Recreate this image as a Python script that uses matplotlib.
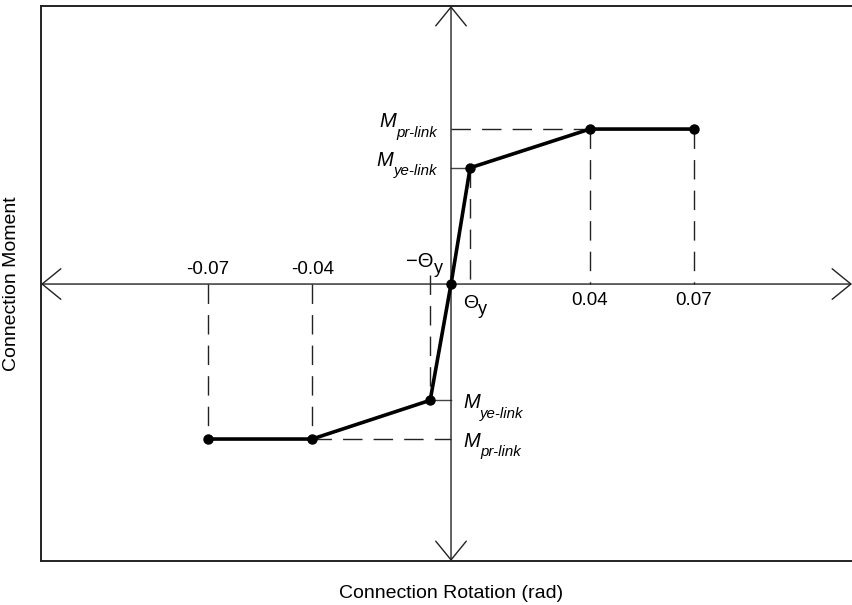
import matplotlib
matplotlib.use("Agg")
import matplotlib.pyplot as plt

plt.rcParams['font.family'] = ['Liberation Sans', 'DejaVu Sans']

# ---- data ----
curve_rotation = [-0.07, -0.04, -0.006, 0.0, 0.0055, 0.04, 0.07]
curve_moment = [-1.0, -1.0, -0.75, 0.0, 0.75, 1.0, 1.0]
tick_values = [-0.07, -0.04, 0.04, 0.07]
tick_labels = ['-0.07', '-0.04', '0.04', '0.07']
theta_neg = -0.006
theta_pos = 0.0055
m_pr = 1.0
m_ye = 0.75
x_range = (-0.1181, 0.1155)
y_range = (-1.787, 1.794)

W, H = 852, 605
fig = plt.figure(figsize=(W / 100, H / 100), dpi=100)
ax = fig.add_axes([41 / W, 1 - 561 / H, 1 - 41 / W, (561 - 6) / H])
ax.set_xlim(*x_range)
ax.set_ylim(*y_range)
ax.set_xticks([])
ax.set_yticks([])
for s in ['left', 'top', 'bottom']:
    ax.spines[s].set_linewidth(1.4)
    ax.spines[s].set_color('#222222')
ax.spines['right'].set_visible(False)

# central axes with open arrow heads
arrow_style = '<->,head_length=13.5,head_width=11'
ax.annotate('', xy=(x_range[1], 0), xytext=(x_range[0], 0),
            arrowprops=dict(arrowstyle=arrow_style, lw=1.0, color='#222222',
                            shrinkA=0, shrinkB=0, mutation_scale=1),
            annotation_clip=False)
ax.annotate('', xy=(0, y_range[1]), xytext=(0, y_range[0]),
            arrowprops=dict(arrowstyle=arrow_style, lw=1.0, color='#222222',
                            shrinkA=0, shrinkB=0, mutation_scale=1),
            annotation_clip=False)

dash = dict(color='#222222', lw=1.0, linestyle=(0, (14, 8)), zorder=2)
thin = dict(color='#444444', lw=1.0, zorder=2)

# dashed guide lines
r_n2, r_n1 = curve_rotation[0], curve_rotation[1]
r_p1, r_p2 = curve_rotation[5], curve_rotation[6]
for r in (r_n2, r_n1):
    ax.plot([r, r], [0, -m_pr], **dash)
for r in (r_p1, r_p2):
    ax.plot([r, r], [m_pr, 0], **dash)
ax.plot([theta_neg, theta_neg], [0.06, -m_ye], **dash)
ax.plot([theta_pos, theta_pos], [m_ye, 0], **dash)
ax.plot([0, r_p1], [m_pr, m_pr], **dash)
ax.plot([r_n1, 0], [-m_pr, -m_pr], **dash)
ax.plot([0, theta_pos], [m_ye, m_ye], **thin)
ax.plot([theta_neg, 0], [-m_ye, -m_ye], **thin)

# the curve
ax.plot(curve_rotation, curve_moment, color='black', lw=2.6, marker='o',
        markersize=6.5, zorder=5, solid_joinstyle='round')

fs = 13.5
# tick labels
for v, lab in zip(tick_values, tick_labels):
    if v < 0:
        ax.annotate(lab, (v, 0), xytext=(0, 7.5), textcoords='offset points',
                    ha='center', va='baseline', fontsize=fs)
    else:
        ax.annotate(lab, (v, 0), xytext=(0, -15), textcoords='offset points',
                    ha='center', va='baseline', fontsize=fs)

renderer = fig.canvas.get_renderer()


def width_pt(s, size, style):
    t = fig.text(0, 0, s, fontsize=size, style=style)
    w = t.get_window_extent(renderer).width * 72 / fig.dpi
    t.remove()
    return w


def compose(x, y, parts, dx, dy, ha):
    widths = [width_pt(s, size, st) for s, size, st, _ in parts]
    cursor = dx if ha == 'left' else dx - sum(widths)
    for (s, size, st, drop), w in zip(parts, widths):
        ax.annotate(s, (x, y), xytext=(cursor, dy - drop),
                    textcoords='offset points', ha='left', va='baseline',
                    fontsize=size, style=st)
        cursor += w


compose(0, 0, [('\u2212\u0398', 14.5, 'normal', 0), ('y', 13, 'normal', 4)],
        -6, 12, 'right')
compose(0, 0, [('\u0398', 14, 'normal', 0), ('y', 13, 'normal', 4)],
        8.5, -17.5, 'left')

ml, sl = 14.5, 10.8
compose(0, m_pr, [('M', ml, 'italic', 0), ('pr-link', sl, 'italic', 7)],
        -10, 1.5, 'right')
compose(0, m_ye, [('M', ml, 'italic', 0), ('ye-link', sl, 'italic', 7)],
        -10, 1.5, 'right')
compose(0, -m_ye, [('M', ml, 'italic', 0), ('ye-link', sl, 'italic', 7)],
        9, -5.5, 'left')
compose(0, -m_pr, [('M', ml, 'italic', 0), ('pr-link', sl, 'italic', 7)],
        9, -5.5, 'left')

fig.text(451 / W, 1 - 593 / H, 'Connection Rotation (rad)', ha='center',
         va='center', fontsize=14)
fig.text(12 / W, 1 - 284 / H, 'Connection Moment', ha='center', va='center',
         rotation=90, fontsize=14)

fig.savefig('out.png', dpi=100)
